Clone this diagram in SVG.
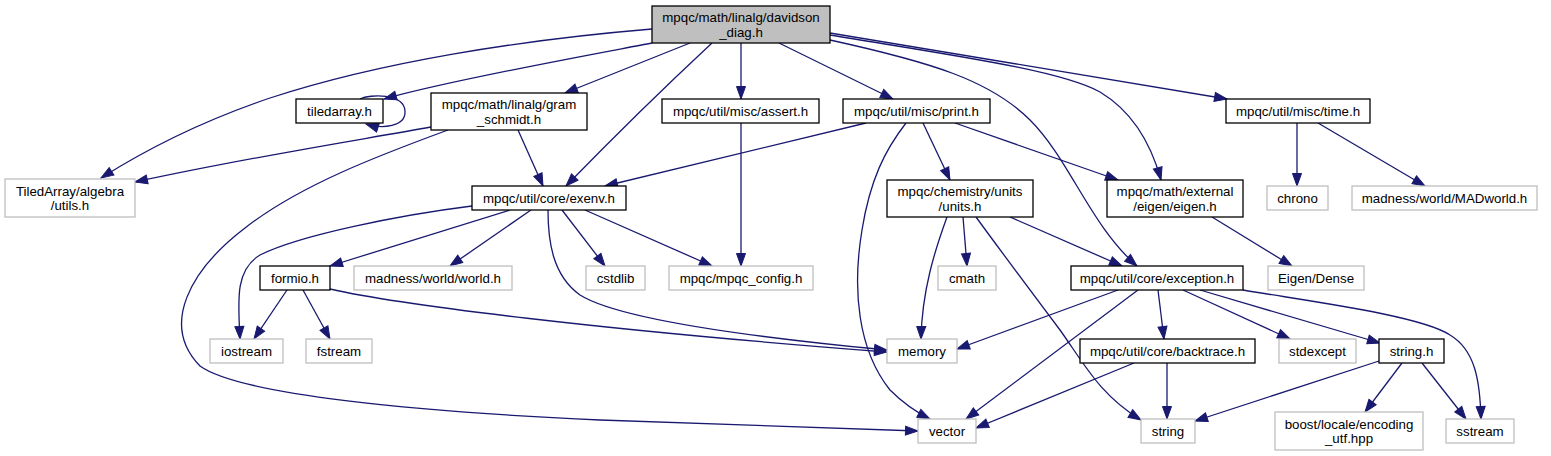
<svg xmlns="http://www.w3.org/2000/svg" width="1551" height="456" viewBox="0 0 1551 456">
<style>
.n rect{fill:#fff;stroke:#000;stroke-width:1.3}
.n.g rect{stroke:#bfbfbf}
.n.m rect{fill:#bfbfbf}
.n text{font-family:"Liberation Sans",Arial,Helvetica,sans-serif;font-size:13.3px;fill:#000;text-anchor:middle}
#edges path{fill:none;stroke:#191970;stroke-width:1.3;marker-end:url(#a)}
</style>
<defs>
<marker id="a" markerWidth="13" markerHeight="10" refX="12.5" refY="5" orient="auto" markerUnits="userSpaceOnUse" overflow="visible"><path d="M0,0.5L12.5,5L0,9.5z" fill="#191970" stroke="#191970" stroke-width="1"/></marker>
</defs>
<rect width="1551" height="456" fill="#fff"/>
<g id="edges">
<path d="M652,29 C520,40 380,62 270,98 C205,120 150,147 101,178"/>
<path d="M652,43 C600,53 450,80 384,99"/>
<path d="M360,99 C370,94 404,93 405,111 C406,127 382,129 366,124"/>
<path d="M690,43 L565,93"/>
<path d="M712,43 Q640,110 566,186"/>
<path d="M741,43 L741,99"/>
<path d="M779,43 L893,99"/>
<path d="M830,35 C950,55 1060,70 1100,92 C1130,110 1150,140 1161,180"/>
<path d="M830,33 L1227,99"/>
<path d="M830,40 C930,62 990,80 1030,120 C1070,160 1090,225 1137,266"/>
<path d="M431,127 C360,140 260,155 135,182"/>
<path d="M448,130 C380,155 300,185 245,228 C190,270 160,325 200,366 C240,395 420,412 600,420 C750,426 850,429 918,431"/>
<path d="M518,130 L543,186"/>
<path d="M866,123 L605,186"/>
<path d="M906,123 C885,150 870,180 862,230 C852,290 858,350 890,390 C905,405 918,413 930,419"/>
<path d="M923,123 L950,180"/>
<path d="M955,123 L1118,180"/>
<path d="M1297,123 L1297,186"/>
<path d="M1318,123 L1425,186"/>
<path d="M472,206 C400,215 300,235 260,255 C235,270 238,300 240,339"/>
<path d="M510,210 L330,266"/>
<path d="M531,210 L450,266"/>
<path d="M548,210 C548,240 552,275 580,295 C620,320 760,338 887,350"/>
<path d="M562,210 L605,266"/>
<path d="M585,210 L712,266"/>
<path d="M741,123 L741,266"/>
<path d="M947,217 C935,250 922,290 921,339"/>
<path d="M963,217 L967,266"/>
<path d="M976,217 C1000,250 1030,290 1060,330 C1085,365 1100,395 1141,420"/>
<path d="M1010,217 L1122,266"/>
<path d="M1212,217 L1292,266"/>
<path d="M287,290 L254,339"/>
<path d="M303,290 L330,339"/>
<path d="M330,289 C400,305 600,330 887,352"/>
<path d="M1118,290 L957,349"/>
<path d="M1138,290 L966,419"/>
<path d="M1158,290 L1164,339"/>
<path d="M1183,290 L1290,339"/>
<path d="M1200,290 L1380,343"/>
<path d="M1243,290 C1300,300 1420,315 1450,335 C1475,350 1480,380 1481,419"/>
<path d="M1134,363 L976,428"/>
<path d="M1167,363 L1167,419"/>
<path d="M1379,361 L1195,421"/>
<path d="M1402,363 L1365,412"/>
<path d="M1422,363 L1466,419"/>
</g>
<g id="n1" class="n m"><rect x="652" y="6" width="178" height="37"/><text x="741" y="22.3">mpqc/math/linalg/davidson</text><text x="741" y="36.5">_diag.h</text></g>
<g id="n2" class="n"><rect x="296" y="99" width="87" height="24"/><text x="339.5" y="115.8">tiledarray.h</text></g>
<g id="n3" class="n"><rect x="431" y="93" width="156" height="37"/><text x="509" y="109.3">mpqc/math/linalg/gram</text><text x="509" y="123.5">_schmidt.h</text></g>
<g id="n4" class="n"><rect x="662" y="99" width="157" height="24"/><text x="740.5" y="115.8">mpqc/util/misc/assert.h</text></g>
<g id="n5" class="n"><rect x="843" y="99" width="147" height="24"/><text x="916.5" y="115.8">mpqc/util/misc/print.h</text></g>
<g id="n6" class="n"><rect x="1226" y="99" width="144" height="24"/><text x="1298" y="115.8">mpqc/util/misc/time.h</text></g>
<g id="n7" class="n g"><rect x="5" y="179" width="130" height="38"/><text x="70" y="195.8">TiledArray/algebra</text><text x="70" y="210">/utils.h</text></g>
<g id="n8" class="n"><rect x="472" y="186" width="154" height="24"/><text x="549" y="202.8">mpqc/util/core/exenv.h</text></g>
<g id="n9" class="n"><rect x="887" y="180" width="146" height="37"/><text x="960" y="196.3">mpqc/chemistry/units</text><text x="960" y="210.5">/units.h</text></g>
<g id="n10" class="n"><rect x="1107" y="180" width="136" height="37"/><text x="1175" y="196.3">mpqc/math/external</text><text x="1175" y="210.5">/eigen/eigen.h</text></g>
<g id="n11" class="n g"><rect x="1267" y="186" width="61" height="24"/><text x="1297.5" y="202.8">chrono</text></g>
<g id="n12" class="n g"><rect x="1352" y="186" width="185" height="24"/><text x="1444.5" y="202.8">madness/world/MADworld.h</text></g>
<g id="n13" class="n"><rect x="260" y="266" width="70" height="24"/><text x="295" y="282.8">formio.h</text></g>
<g id="n14" class="n g"><rect x="354" y="266" width="158" height="24"/><text x="433" y="282.8">madness/world/world.h</text></g>
<g id="n15" class="n g"><rect x="586" y="266" width="59" height="24"/><text x="615.5" y="282.8">cstdlib</text></g>
<g id="n16" class="n g"><rect x="669" y="266" width="144" height="24"/><text x="741" y="282.8">mpqc/mpqc_config.h</text></g>
<g id="n17" class="n g"><rect x="938" y="266" width="58" height="24"/><text x="967" y="282.8">cmath</text></g>
<g id="n18" class="n"><rect x="1071" y="266" width="172" height="24"/><text x="1157" y="282.8">mpqc/util/core/exception.h</text></g>
<g id="n19" class="n g"><rect x="1268" y="266" width="96" height="24"/><text x="1316" y="282.8">Eigen/Dense</text></g>
<g id="n20" class="n g"><rect x="210" y="339" width="73" height="24"/><text x="246.5" y="355.8">iostream</text></g>
<g id="n21" class="n g"><rect x="306" y="339" width="66" height="24"/><text x="339" y="355.8">fstream</text></g>
<g id="n22" class="n g"><rect x="887" y="339" width="70" height="24"/><text x="922" y="355.8">memory</text></g>
<g id="n23" class="n"><rect x="1080" y="339" width="175" height="24"/><text x="1167.5" y="355.8">mpqc/util/core/backtrace.h</text></g>
<g id="n24" class="n g"><rect x="1279" y="339" width="77" height="24"/><text x="1317.5" y="355.8">stdexcept</text></g>
<g id="n25" class="n"><rect x="1379" y="339" width="65" height="24"/><text x="1411.5" y="355.8">string.h</text></g>
<g id="n26" class="n g"><rect x="918" y="419" width="58" height="24"/><text x="947" y="435.8">vector</text></g>
<g id="n27" class="n g"><rect x="1141" y="419" width="54" height="24"/><text x="1168" y="435.8">string</text></g>
<g id="n28" class="n g"><rect x="1275" y="412" width="148" height="38"/><text x="1349" y="428.8">boost/locale/encoding</text><text x="1349" y="443">_utf.hpp</text></g>
<g id="n29" class="n g"><rect x="1446" y="419" width="68" height="24"/><text x="1480" y="435.8">sstream</text></g>
</svg>
